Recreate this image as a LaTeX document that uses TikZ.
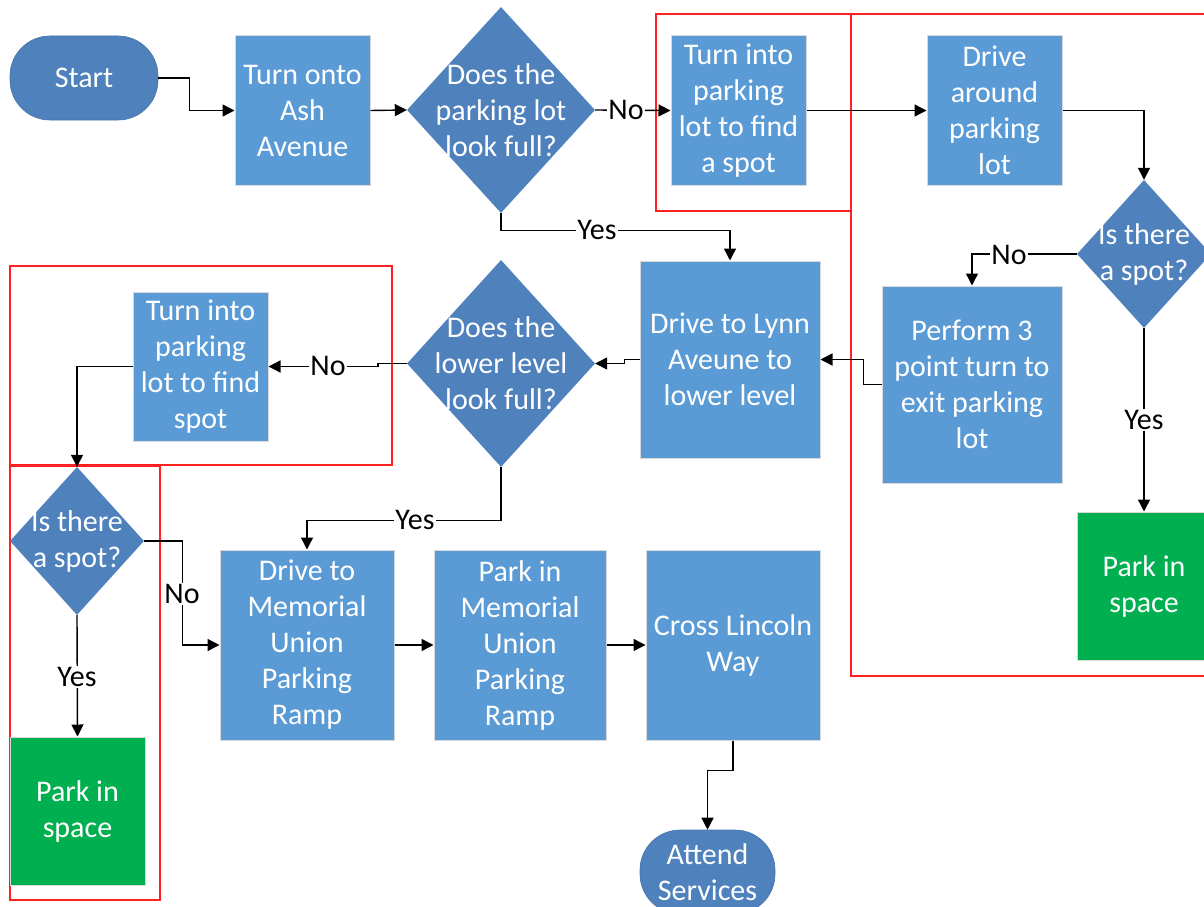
\documentclass[tikz,border=0pt]{standalone}
\usepackage{fontspec}
\setmainfont{Carlito}
\usetikzlibrary{shapes.geometric,arrows.meta}
\definecolor{boxblue}{HTML}{5B9BD5}
\definecolor{dkblue}{HTML}{4F81BD}
\definecolor{pgreen}{HTML}{00B050}
\definecolor{frame}{HTML}{FF2020}
\tikzset{
  txt/.style={font=\fontsize{30}{36}\selectfont},
  proc/.style={rectangle, fill=boxblue, draw=black!15, line width=1pt, text=white, align=center, inner sep=0pt, txt},
  okbox/.style={proc, fill=pgreen},
  term/.style={rectangle, rounded corners=40pt, fill=dkblue, draw=dkblue!90!black, line width=0.6pt, text=white, align=center, inner sep=0pt, txt},
  dec/.style={diamond, fill=dkblue, inner sep=0pt},
  dtext/.style={text=white, align=center, inner sep=0pt, txt},
  conn/.style={line width=1.4pt, -{Triangle[length=12pt,width=12pt]}},
  lab/.style={fill=white, inner sep=1pt, text=black, txt},
  redframe/.style={draw=frame, line width=1.3pt}
}
\begin{document}
\begin{tikzpicture}[x=1pt,y=-1pt]
\useasboundingbox (0,0) rectangle (1204,907);
\clip (0,0) rectangle (1204,907);
\fill[white] (0,0) rectangle (1204,907);

% red frames
\draw[redframe] (656,14) rectangle (851,211);
\draw[redframe] (851,14) rectangle (1215,676);
\draw[redframe] (10,266) rectangle (392,465);
\draw[redframe] (10,466) rectangle (160,900);

% nodes
\node[term, minimum width=148pt, minimum height=84pt] (start) at (84,78) {Start};
\node[proc, minimum width=135pt, minimum height=149pt] (ash) at (302.5,110.5) {Turn onto\\Ash\\Avenue};
\node[dec, minimum width=188pt, minimum height=206pt] (d1) at (501,110) {};
\node[dtext] (d1t) at (d1.center) {Does the\\parking lot\\look full?};
\node[proc, minimum width=135pt, minimum height=149pt] (lot1) at (738.5,110.5) {Turn into\\parking\\lot to find\\a spot};
\node[proc, minimum width=135pt, minimum height=149pt] (drive) at (994.5,110.5) {Drive\\around\\parking\\lot};
\node[dec, minimum width=134pt, minimum height=148pt] (d2) at (1144,254) {};
\node[dtext] (d2t) at (d2.center) {Is there\\a spot?};
\node[proc, minimum width=180pt, minimum height=197pt] (perf) at (972,384.5) {Perform 3\\point turn to\\exit parking\\lot};
\node[okbox, minimum width=134pt, minimum height=148pt] (park1) at (1144,586) {Park in\\space};
\node[proc, minimum width=180pt, minimum height=197pt] (lynn) at (730,359.5) {Drive to Lynn\\Aveune to\\lower level};
\node[dec, minimum width=188pt, minimum height=207pt] (d3) at (501,363.5) {};
\node[dtext] (d3t) at (d3.center) {Does the\\lower level\\look full?};
\node[proc, minimum width=135pt, minimum height=149pt] (turn2) at (200.5,366.5) {Turn into\\parking\\lot to find\\spot};
\node[dec, minimum width=134pt, minimum height=148pt] (d4) at (77,541) {};
\node[dtext] (d4t) at (d4.center) {Is there\\a spot?};
\node[okbox, minimum width=135pt, minimum height=148pt] (park2) at (77.5,811) {Park in\\space};
\node[proc, minimum width=174pt, minimum height=190pt] (dm) at (307,645) {Drive to\\Memorial\\Union\\Parking\\Ramp};
\node[proc, minimum width=172pt, minimum height=190pt] (pm) at (520,645) {Park in\\Memorial\\Union\\Parking\\Ramp};
\node[proc, minimum width=174pt, minimum height=190pt] (cross) at (733,645) {Cross Lincoln\\Way};
\node[term, minimum width=135pt, minimum height=84pt] (attend) at (707.5,872) {Attend\\Services};

% connectors
\draw[conn] (start.east) -- ++(31,0) |- (ash.west);
\draw[conn] (ash.east) -- (d1.west);
\draw[conn] (d1.east) -- (lot1.west);
\draw[conn] (lot1.east) -- (drive.west);
\draw[conn] (drive.east) -| (d2.north);
\draw[conn] (d2.west) -| (perf.north);
\draw[conn] (d2.south) -- (park1.north);
\draw[conn] (perf.west) -- ++(-18,0) |- (lynn.east);
\draw[conn] (d1.south) -- ++(0,17) -| (lynn.north);
\draw[conn] (lynn.west) -- ++(-15,0) |- (d3.east);
\draw[conn] (d3.west) -- ++(-29,0) |- (turn2.east);
\draw[conn] (turn2.west) -| (d4.north);
\draw[conn] (d4.east) -- ++(38,0) |- (dm.west);
\draw[conn] (d4.south) -- (park2.north);
\draw[conn] (d3.south) -- ++(0,53) -| (dm.north);
\draw[conn] (dm.east) -- (pm.west);
\draw[conn] (pm.east) -- (cross.west);
\draw[conn] (cross.south) -- ++(0,30) -| (attend.north);

% labels
\node[lab] (n1) at (626,110) {No};
\node[lab] (y1) at (597,230) {Yes};
\node[lab] (n2) at (1009,255) {No};
\node[lab] (y2) at (1144,420) {Yes};
\node[lab] (n3) at (328,366) {No};
\node[lab] (n4) at (182,594) {No};
\node[lab] (y4) at (77,677) {Yes};
\node[lab] (y3) at (415,520) {Yes};
\end{tikzpicture}
\end{document}
